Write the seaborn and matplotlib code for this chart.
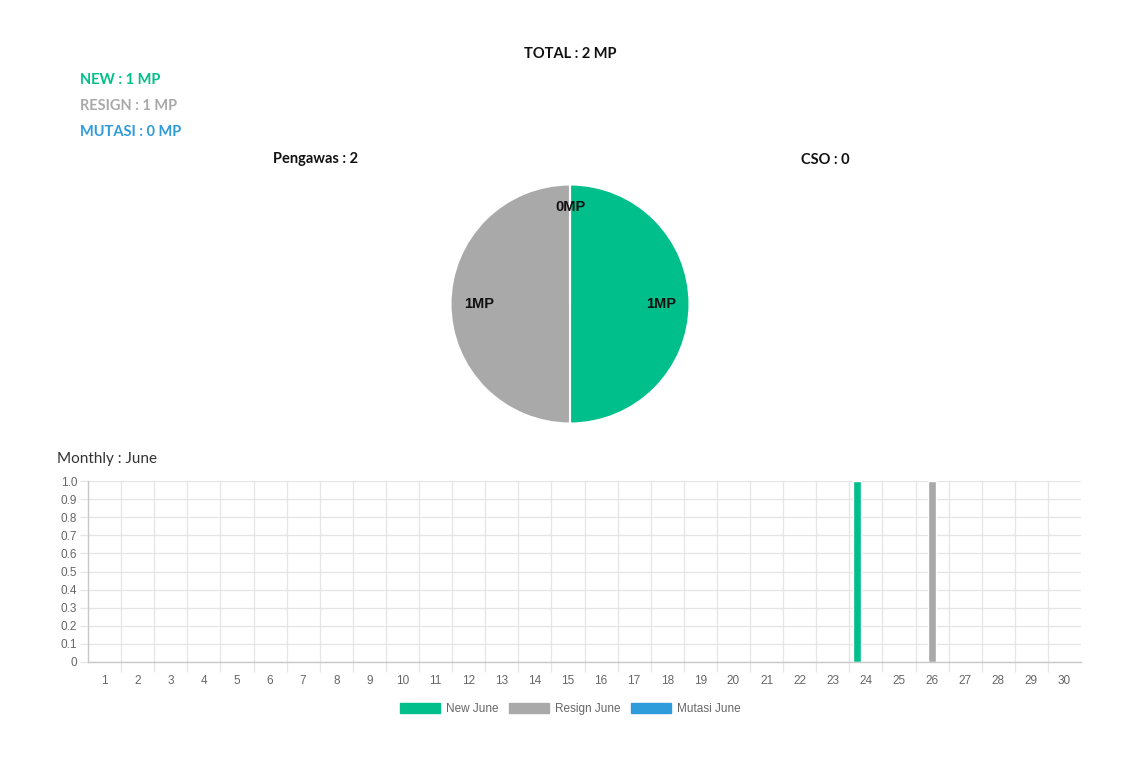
import matplotlib
matplotlib.use("Agg")
import matplotlib.pyplot as plt
from matplotlib.patches import Patch
from matplotlib.ticker import FixedLocator
import pandas as pd
import seaborn as sns

# ---- data ----
series_names = ["New June", "Resign June", "Mutasi June"]
series_colors = ["#00bf8a", "#a9a9a9", "#2e9bdb"]
days = list(range(1, 31))
new_counts = [0] * 23 + [1] + [0] * 6          # day 24
resign_counts = [0] * 25 + [1] + [0] * 4       # day 26
mutasi_counts = [0] * 30

y_ticks = [0, 0.1, 0.2, 0.3, 0.4, 0.5, 0.6, 0.7, 0.8, 0.9, 1.0]
y_tick_labels = ["0", "0.1", "0.2", "0.3", "0.4", "0.5", "0.6", "0.7", "0.8", "0.9", "1.0"]

pie_labels = ["New", "Resign", "Mutasi"]
pie_values = [1, 1, 0]

total_mp = 2
new_mp, resign_mp, mutasi_mp = 1, 1, 0
pengawas_count = 2
cso_count = 0
month_name = "June"

sns.set_theme(style="white")
plt.rcParams["font.family"] = ["Liberation Sans", "DejaVu Sans"]

fig = plt.figure(figsize=(11.4, 7.69), dpi=100)
W, H = 1140, 769
PT = 0.72  # points per pixel at 100 dpi


def fx(px):
    return px / W


def fy(py):
    return 1 - py / H


head_font = ["Lato", "DejaVu Sans"]

# ---- header texts ----
hdr = dict(va="center_baseline", fontsize=10.5, fontweight="bold", family=head_font)
fig.text(fx(570), fy(53), f"TOTAL : {total_mp} MP", ha="center", color="#111111", **hdr)
fig.text(fx(80), fy(79), f"NEW : {new_mp} MP", ha="left", color=series_colors[0], **hdr)
fig.text(fx(80), fy(105), f"RESIGN : {resign_mp} MP", ha="left", color=series_colors[1], **hdr)
fig.text(fx(80), fy(131), f"MUTASI : {mutasi_mp} MP", ha="left", color=series_colors[2], **hdr)
fig.text(fx(315), fy(158), f"Pengawas : {pengawas_count}", ha="center", color="#111111", **hdr)
fig.text(fx(825), fy(158), f"CSO : {cso_count}", ha="center", color="#111111", **hdr)
fig.text(fx(57), fy(458), f"Monthly : {month_name}", ha="left", va="center_baseline",
         fontsize=11, color="#333333", family=head_font)

# ---- pie ----
r = 119.5
ax_pie = fig.add_axes([fx(570 - r), fy(304 + r), 2 * r / W, 2 * r / H])
total = sum(pie_values)


def mp_label(pct):
    return f"{int(round(pct * total / 100))}MP"


wedges, texts, autotexts = ax_pie.pie(
    pie_values, colors=series_colors, startangle=90, counterclock=False,
    autopct=mp_label, pctdistance=0.76,
    wedgeprops=dict(edgecolor="white", linewidth=1.5),
    textprops=dict(fontsize=10.5, fontweight="bold", color="#111111"))
autotexts[2].set_position((0, 0.81))
ax_pie.set_xlim(-1.0, 1.0)
ax_pie.set_ylim(-1.0, 1.0)
ax_pie.set_aspect("equal")
ax_pie.axis("off")

# ---- monthly bar chart ----
df = pd.DataFrame({
    "day": days * 3,
    "count": new_counts + resign_counts + mutasi_counts,
    "series": [series_names[0]] * 30 + [series_names[1]] * 30 + [series_names[2]] * 30,
})

ax = fig.add_axes([fx(88), fy(662), (1081 - 88) / W, (662 - 481) / H])
sns.barplot(data=df, x="day", y="count", hue="series", palette=series_colors,
            hue_order=series_names, width=0.8, gap=0.1, ax=ax, legend=False,
            errorbar=None, saturation=1)

ax.set_xlim(-0.5, 29.5)
ax.set_ylim(0, 1.0)
ax.set_xlabel("")
ax.set_ylabel("")

ax.set_yticks(y_ticks)
ax.set_yticklabels(y_tick_labels)
ax.set_xticks(range(30))
ax.set_xticklabels([str(d) for d in days])
ax.xaxis.set_minor_locator(FixedLocator([i - 0.5 for i in range(1, 30)]))

grid_col = "#e5e5e5"
axis_col = "#c8c8c8"
ax.grid(True, axis="y", which="major", color=grid_col, linewidth=0.9)
ax.grid(True, axis="x", which="minor", color=grid_col, linewidth=0.9)
ax.grid(False, axis="x", which="major")
ax.set_axisbelow(True)

ax.tick_params(axis="x", which="major", length=0, pad=9, labelsize=8.5, labelcolor="#666666")
ax.tick_params(axis="x", which="minor", length=10 * PT, width=0.9, color=grid_col, bottom=True)
ax.tick_params(axis="y", which="major", length=8 * PT, width=0.9, color=grid_col, pad=2,
               labelsize=8.5, labelcolor="#666666", left=True)

for side in ["top", "right"]:
    ax.spines[side].set_visible(False)
for side in ["left", "bottom"]:
    ax.spines[side].set_color(axis_col)
    ax.spines[side].set_linewidth(1.0)

# ---- legend ----
handles = [Patch(facecolor=c, edgecolor=c, label=n) for c, n in zip(series_colors, series_names)]
fig.legend(handles=handles, loc="center", bbox_to_anchor=(fx(570), fy(709)), ncol=3,
           frameon=False, fontsize=8.5, labelcolor="#666666",
           handlelength=3.4, handleheight=1.0, handletextpad=0.5, columnspacing=0.9)

fig.savefig("out.png", dpi=100)
